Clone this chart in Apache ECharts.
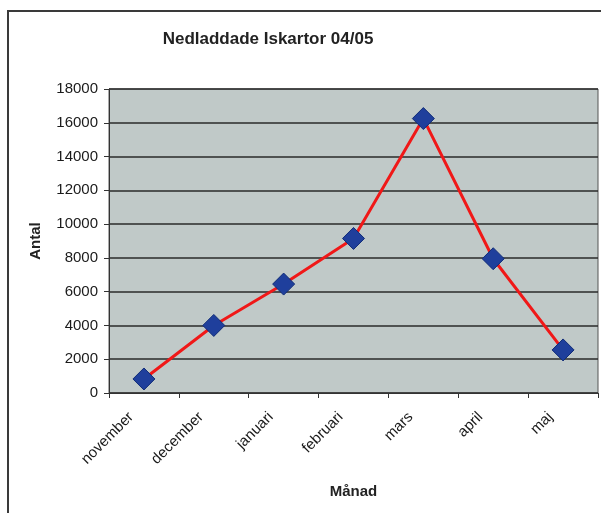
<!DOCTYPE html>
<html>
<head>
<meta charset="utf-8">
<script src="https://cdn.jsdelivr.net/npm/echarts@6/dist/echarts.min.js"></script>
<style>
  html, body { margin: 0; padding: 0; background: #fff; }
  #main { width: 601px; height: 513px; }
</style>
</head>
<body>
<div id="main"></div>
<script>
// data
const months = ['november', 'december', 'januari', 'februari', 'mars', 'april', 'maj'];
const downloads = [830, 4000, 6450, 9150, 16250, 7950, 2550];

const chart = echarts.init(document.getElementById('main'));

const option = {
    animation: false,
    backgroundColor: '#fff',
    title: {
        text: 'Nedladdade Iskartor 04/05',
        left: 263,
        top: 26,
        textAlign: 'center',
        textStyle: {
            fontFamily: 'Liberation Sans',
            fontSize: 17,
            fontWeight: 'bold',
            color: '#222'
        }
    },
    graphic: [
        {
            type: 'rect',
            shape: { x: 8, y: 11, width: 600, height: 510 },
            style: { fill: 'none', stroke: '#3a3a3a', lineWidth: 2 },
            silent: true
        }
    ],
    grid: {
        left: 109,
        right: 3,
        top: 89,
        bottom: 120,
        show: true,
        backgroundColor: '#c0c9c8',
        borderColor: '#555',
        borderWidth: 1
    },
    xAxis: {
        type: 'category',
        data: months,
        boundaryGap: true,
        name: 'Månad',
        nameLocation: 'middle',
        nameGap: 91,
        nameTextStyle: {
            fontFamily: 'Liberation Sans',
            fontSize: 15,
            fontWeight: 'bold',
            color: '#222'
        },
        axisLine: { show: true, lineStyle: { color: '#333', width: 1 } },
        axisTick: { show: true, alignWithLabel: false, length: 5, lineStyle: { color: '#333' } },
        axisLabel: {
            rotate: 45,
            margin: 9,
            padding: [0, 18, 0, 0],
            fontFamily: 'Liberation Sans',
            fontSize: 15,
            color: '#1a1a1a'
        },
        splitLine: { show: false }
    },
    yAxis: {
        type: 'value',
        min: 0,
        max: 18000,
        interval: 2000,
        name: 'Antal',
        nameLocation: 'middle',
        nameGap: 66,
        nameRotate: 90,
        nameTextStyle: {
            fontFamily: 'Liberation Sans',
            fontSize: 15,
            fontWeight: 'bold',
            color: '#222'
        },
        axisLine: { show: true, lineStyle: { color: '#333', width: 1 } },
        axisTick: { show: true, length: 5, lineStyle: { color: '#333' } },
        axisLabel: {
            margin: 11,
            fontFamily: 'Liberation Sans',
            fontSize: 15,
            color: '#1a1a1a',
            formatter: v => String(v)
        },
        splitLine: { show: true, lineStyle: { color: '#2a2a2a', width: 1.5 } }
    },
    series: [
        {
            type: 'line',
            data: downloads,
            symbol: 'diamond',
            symbolSize: 22,
            lineStyle: { color: '#f01818', width: 3 },
            itemStyle: { color: '#1f3f9c', borderColor: '#102c78', borderWidth: 1 },
            z: 5
        }
    ]
};

chart.setOption(option);
</script>
</body>
</html>
